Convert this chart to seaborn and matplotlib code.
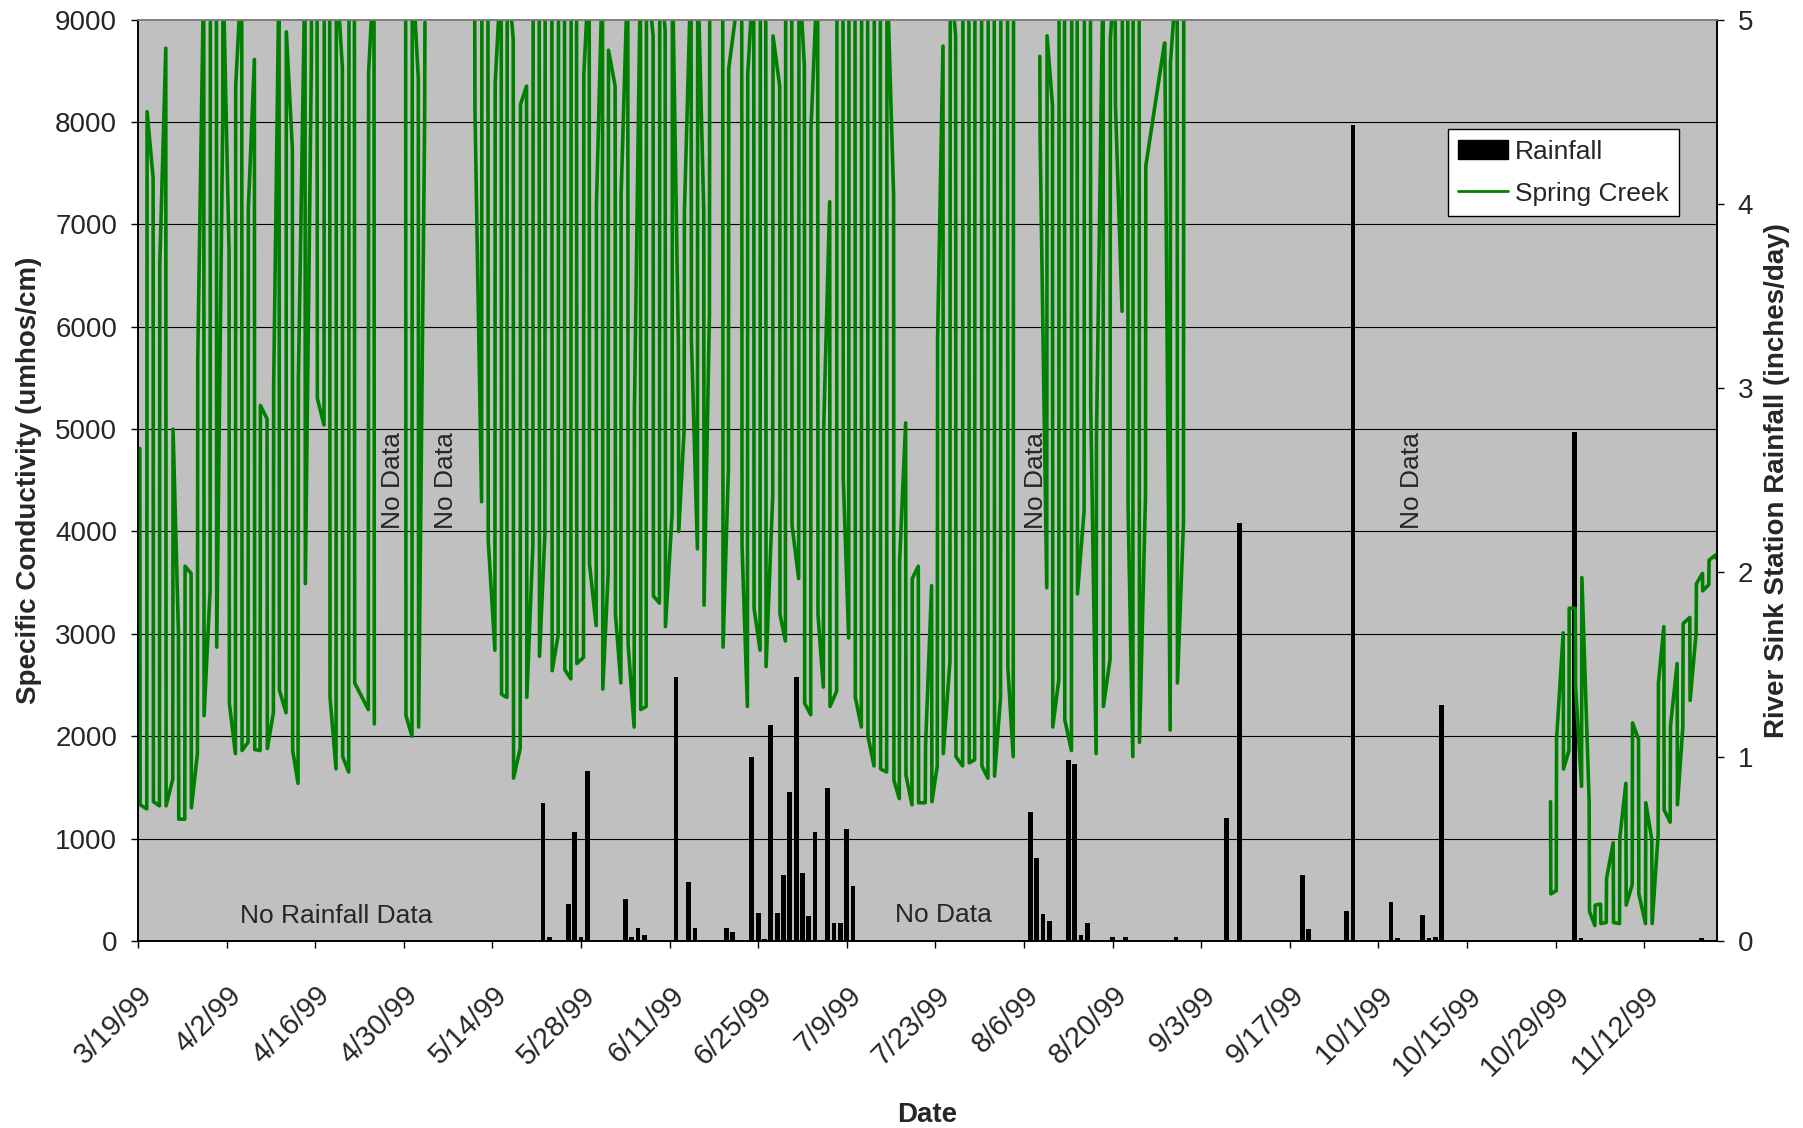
import matplotlib
matplotlib.use("Agg")
import matplotlib.pyplot as plt
import matplotlib.transforms as mtransforms
from matplotlib.patches import Patch
from matplotlib.lines import Line2D
import numpy as np
import pandas as pd
import seaborn as sns

# day 0 = 3/19/99, ticks every 14 days
tick_labels = ["3/19/99", "4/2/99", "4/16/99", "4/30/99", "5/14/99", "5/28/99",
               "6/11/99", "6/25/99", "7/9/99", "7/23/99", "8/6/99", "8/20/99",
               "9/3/99", "9/17/99", "10/1/99", "10/15/99", "10/29/99", "11/12/99"]

# River Sink daily rainfall (inches/day)
rain_day = [64, 65, 68, 69, 70, 71, 77, 78, 79, 80,
            85, 87, 88, 93, 94, 97, 98, 99, 100, 101,
            102, 103, 104, 105, 106, 107, 109, 110, 111, 112,
            113, 141, 142, 143, 144, 147, 148, 149, 150, 154,
            156, 164, 172, 174, 184, 185, 191, 192, 198, 199,
            203, 204, 205, 206, 227, 228, 247]
rain_in = [0.75, 0.02, 0.2, 0.59, 0.02, 0.92, 0.23, 0.02, 0.07, 0.03,
           1.43, 0.32, 0.07, 0.07, 0.05, 1.0, 0.15, 0.01, 1.17, 0.15,
           0.36, 0.81, 1.43, 0.37, 0.135, 0.59, 0.83, 0.1, 0.1, 0.61,
           0.30, 0.70, 0.45, 0.145, 0.11, 0.98, 0.96, 0.03, 0.1, 0.02,
           0.02, 0.02, 0.67, 2.27, 0.36, 0.064, 0.16, 4.43, 0.21, 0.016,
           0.14, 0.016, 0.02, 1.28, 2.76, 0.016, 0.016]

# Spring Creek conductivity, one swing per day: (day, high, low)
# 9500 = off the top of the chart
seg1 = [(0.3, 4810, 1330), (1.4, 8100, 1290), (2.4, 7450, 1360), (3.4, 6600, 1320),
        (4.4, 8720, 1320), (5.5, 5000, 1580), (6.4, 3010, 1190), (7.4, 3660, 1190),
        (8.4, 3590, 1300), (9.4, 5680, 1830), (10.4, 9500, 2200), (11.4, 9500, 3420),
        (12.4, 9500, 2870), (13.4, 9500, 8030), (14.4, 6720, 2320), (15.4, 8350, 1830),
        (16.4, 9500, 1860), (17.4, 7160, 1940), (18.4, 8610, 1870), (19.3, 5230, 1860),
        (20.4, 5100, 1880), (21.4, 5440, 2230), (22.3, 9500, 2450), (23.4, 8880, 2230),
        (24.4, 7740, 1860), (25.3, 5480, 1540), (26.4, 9500, 3490), (27.4, 9500, 8580),
        (28.3, 9500, 5300), (29.4, 9500, 5040), (30.3, 9500, 2380), (31.3, 9500, 1680),
        (32.3, 8530, 1800), (33.3, 9500, 1650), (34.2, 9500, 2520), (36.4, 8490, 2260),
        (37.3, 9500, 2120)]
seg2 = [(42.3, 9500, 2200), (43.3, 9500, 2000), (44.3, 8430, 2090), (45.3, 8970, 8000)]
seg3 = [(53.2, 9500, 8120), (54.3, 9500, 4290), (55.3, 9500, 3910), (56.4, 8380, 2840),
        (57.4, 9500, 2410), (58.3, 9500, 2380), (59.3, 8810, 1590), (60.4, 8170, 1880),
        (61.4, 8350, 2380), (62.4, 9500, 3860), (63.4, 9500, 2780), (64.3, 9500, 3970),
        (65.4, 9500, 2640), (66.4, 9500, 2990), (67.4, 9500, 2650), (68.4, 9500, 2560),
        (69.3, 9500, 2710), (70.4, 8460, 2770), (71.3, 9500, 3680), (72.4, 7190, 3080),
        (73.4, 9500, 2460), (74.3, 8700, 3590), (75.4, 8350, 3190), (76.3, 7300, 2520),
        (77.4, 9500, 2900), (78.4, 5190, 2090), (79.4, 9500, 2260), (80.3, 9500, 2290),
        (81.4, 8840, 3370), (82.4, 9500, 3300), (83.3, 8900, 3070), (84.4, 9500, 4170),
        (85.4, 5800, 4000), (86.3, 7130, 4990), (87.4, 9500, 5880), (88.4, 9500, 3830),
        (89.4, 7130, 3280), (90.3, 9500, 6120), (92.4, 9500, 2870), (93.3, 8520, 4610),
        (95.4, 9500, 3860), (96.3, 8460, 2290), (97.3, 9500, 3250), (98.3, 9500, 2840),
        (99.2, 9500, 2680), (100.3, 8840, 4350), (101.4, 8350, 3190), (102.3, 9500, 2930),
        (103.3, 9500, 4060), (104.4, 9500, 3540), (105.3, 8550, 2320), (106.3, 7940, 2210),
        (107.4, 9500, 3190), (108.3, 5000, 2480), (109.3, 7220, 2290), (110.4, 9500, 2440),
        (111.4, 9500, 4520), (112.3, 9500, 2960), (113.3, 9500, 2380), (114.3, 9500, 2090),
        (115.3, 9500, 2000), (116.3, 9500, 1710), (117.3, 9500, 1680), (118.3, 9500, 1650),
        (119.4, 7280, 1570), (120.3, 3710, 1390), (121.3, 5060, 1620), (122.3, 3540, 1330),
        (123.3, 3660, 1350), (124.4, 1910, 1350), (125.4, 3470, 1360), (126.3, 5880, 1710),
        (127.2, 8740, 1830), (128.3, 9500, 2730), (129.2, 8840, 1800), (130.3, 9500, 1710),
        (131.3, 8960, 1740), (132.2, 9500, 1770), (133.3, 9500, 1710), (134.3, 9500, 1590),
        (135.3, 9500, 1610), (136.3, 9500, 2380), (137.4, 9500, 2670), (138.3, 9500, 1800)]
seg4 = [(142.5, 8640, 7830), (143.6, 8840, 3450), (144.5, 8160, 2090), (145.5, 9500, 2550),
        (146.4, 9500, 2160), (147.5, 9500, 1860), (148.4, 9500, 3390), (149.5, 9500, 4200),
        (150.5, 9500, 5220), (151.4, 4900, 1830), (152.5, 9500, 2290), (153.6, 8810, 2750),
        (154.4, 9500, 8170), (155.5, 9500, 6150), (156.4, 9500, 4240), (157.2, 9500, 1800),
        (158.2, 9500, 1940), (159.2, 7570, 4350), (162.2, 8770, 8770), (163.1, 8580, 2060),
        (164.2, 9500, 2520), (165.2, 9500, 4090)]
seg5 = [(223.2, 1360, 460), (224.1, 1970, 490), (225.2, 3010, 1680), (226.1, 3250, 1860),
        (227.1, 3250, 2490), (228.1, 3550, 1510), (229.3, 1360, 290), (230.2, 350, 150),
        (231.1, 360, 170), (232.0, 610, 180), (233.1, 960, 180), (234.1, 1010, 170),
        (235.1, 1540, 350), (236.1, 2130, 550), (237.1, 1970, 460), (238.2, 1350, 170),
        (239.2, 990, 170), (240.2, 2520, 1040), (241.1, 3070, 1280), (242.1, 2100, 1160),
        (243.2, 2710, 1330), (244.1, 3100, 2090), (245.2, 3160, 2350), (246.2, 3490, 3010),
        (247.2, 3590, 3420), (248.2, 3720, 3480), (249.3, 3770, 3740)]

no_data_day = [40.3, 48.7, 141.9, 201.3]

# build the zigzag path, alternating down/up swings
rows = []
for s, strokes in enumerate([seg1, seg2, seg3, seg4, seg5]):
    for k, (d, hi, lo) in enumerate(strokes):
        a, b = (hi, lo) if k % 2 == 0 else (lo, hi)
        rows.append((s, d, a))
        rows.append((s, d + 0.05, b))
sc = pd.DataFrame(rows, columns=["seg", "day", "cond"])

sns.set_style("ticks")
plt.rcParams["font.family"] = ["Liberation Sans", "DejaVu Sans"]

fig = plt.figure(figsize=(18.03, 11.28), dpi=100)
ax = fig.add_axes([0.0765, 0.1658, 0.8758, 0.8169])
ax2 = ax.twinx()
ax.set_zorder(ax2.get_zorder() + 1)
ax.patch.set_visible(False)
ax2.patch.set_visible(True)
ax2.set_facecolor("#c0c0c0")

# rainfall bars (right axis)
ax2.bar(rain_day, rain_in, width=0.75, color="black", linewidth=0)
ax2.set_ylim(0, 5)
ax2.set_yticks(range(6))

# conductivity line (left axis)
sns.lineplot(data=sc, x="day", y="cond", units="seg", estimator=None, sort=False,
             color="#008000", linewidth=2.6, ax=ax, legend=False)
ax.set_ylim(0, 9000)
ax.set_yticks(range(0, 9001, 1000))
ax.set_xlim(0, 249.5)
ax.set_xticks(np.arange(len(tick_labels)) * 14)
ax.set_xticklabels(tick_labels, rotation=45, ha="right", va="top",
                   rotation_mode="anchor", fontsize=21)
shift = mtransforms.ScaledTranslation(-0.07, 0, fig.dpi_scale_trans)
for lab in ax.get_xticklabels():
    lab.set_transform(lab.get_transform() + shift)

ax.yaxis.grid(True, color="black", linewidth=0.8)
ax.set_axisbelow(True)
gl = ax.get_ygridlines()
gl[0].set_visible(False)
gl[-1].set_visible(False)

ax.tick_params(axis="y", length=5, width=1, color="black", labelsize=20, pad=10)
ax.tick_params(axis="x", length=5, width=1, color="black", pad=24)
ax2.tick_params(axis="y", length=5, width=1, color="black", labelsize=20, pad=10)

for a in (ax, ax2):
    for side in ("left", "bottom", "right"):
        a.spines[side].set_color("black")
        a.spines[side].set_linewidth(1.2)
    a.spines["top"].set_color("#808080")
    a.spines["top"].set_linewidth(1.2)

ax.set_xlabel("Date", fontsize=20, fontweight="bold")
ax.xaxis.set_label_coords(0.5, -0.175)
ax.set_ylabel("Specific Conductivity (umhos/cm)", fontsize=20, fontweight="bold")
ax.yaxis.set_label_coords(-0.061, 0.5)
ax2.set_ylabel("River Sink Station Rainfall (inches/day)", fontsize=20, fontweight="bold")
ax2.yaxis.set_label_coords(1.030, 0.5)

# annotations
for d in no_data_day:
    ax.text(d, 4500, "No Data", rotation=90, ha="center", va="center", fontsize=19)
ax.text(31.3, 240, "No Rainfall Data", ha="center", va="center", fontsize=19)
ax.text(127.3, 250, "No Data", ha="center", va="center", fontsize=19)

handles = [Patch(facecolor="black", edgecolor="black", label="Rainfall"),
           Line2D([], [], color="#008000", linewidth=2, label="Spring Creek")]
leg = ax.legend(handles=handles, loc="upper right", bbox_to_anchor=(0.976, 0.881),
                fontsize=19, frameon=True, fancybox=False, edgecolor="black",
                framealpha=1, borderaxespad=0, handlelength=1.9, handletextpad=0.25,
                handleheight=0.7, borderpad=0.4, labelspacing=0.68)
leg.get_frame().set_linewidth(1)

fig.savefig("out.png", dpi=100, facecolor="white")
